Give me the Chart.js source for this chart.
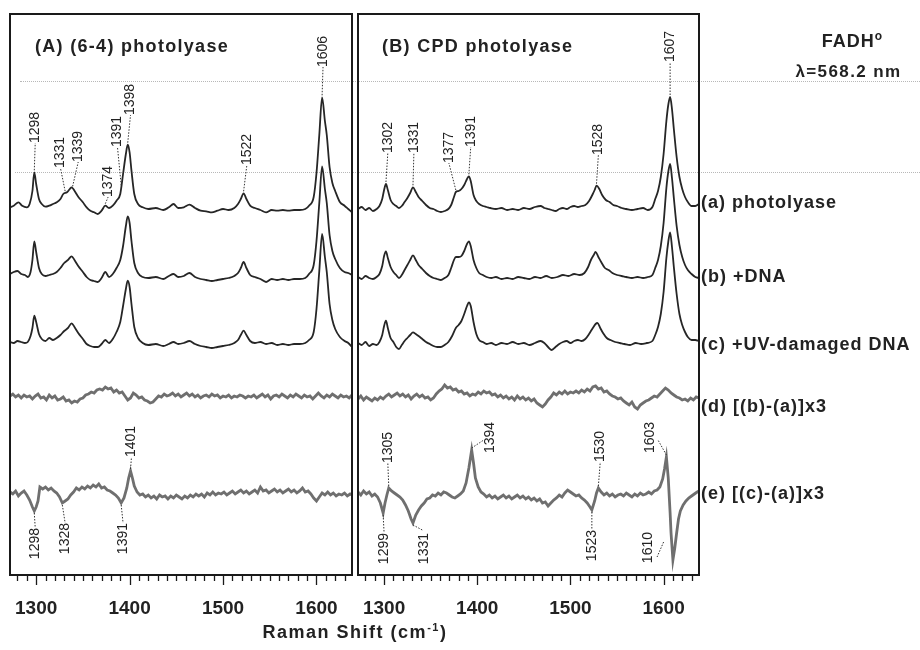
<!DOCTYPE html>
<html><head><meta charset="utf-8">
<script src="https://cdn.jsdelivr.net/npm/chart.js@4.4.1/dist/chart.umd.min.js"></script>
<style>
html,body{margin:0;padding:0;background:#fff;}
#wrap{position:relative;width:920px;height:650px;overflow:hidden;font-family:"Liberation Sans",Arial,sans-serif;color:#222;}
.dot{position:absolute;height:0;border-top:1px dotted #b8b8b8;}
.txt{position:absolute;font-weight:bold;white-space:nowrap;}
canvas{position:absolute;top:0;}
</style></head><body>
<div id="wrap">
  <div class="dot" style="left:20px;top:81px;width:900px"></div>
  <div class="dot" style="left:15px;top:172px;width:905px"></div>
  <canvas id="cA" width="360" height="650" style="left:0px"></canvas>
  <canvas id="cB" width="565" height="650" style="left:355px"></canvas>
  <div class="txt" style="left:35px;top:36px;font-size:18px;letter-spacing:1.3px">(A) (6-4) photolyase</div>
  <div class="txt" style="left:382px;top:36px;font-size:18px;letter-spacing:1.3px">(B) CPD photolyase</div>
  <div class="txt" style="left:790px;top:29px;width:125px;text-align:center;font-size:18px;letter-spacing:1px">FADH<sup style="font-size:12px">o</sup></div>
  <div class="txt" style="left:786px;top:62px;width:125px;text-align:center;font-size:17px;letter-spacing:1.4px">&lambda;=568.2 nm</div>
  <div class="txt" style="left:205px;top:621px;width:300px;text-align:center;font-size:18px;letter-spacing:1.5px">Raman Shift (cm<sup style="font-size:11px">-1</sup>)</div>
</div>
<script>
// ---- axis values ----
const wnMin = 1272, wnMax = 1638;
const xTickLabels = [1300, 1400, 1500, 1600];
const xMinorTicks = [1280,1290,1300,1310,1320,1330,1340,1350,1360,1370,1380,1390,1400,1410,1420,1430,1440,1450,1460,1470,1480,1490,1500,1510,1520,1530,1540,1550,1560,1570,1580,1590,1600,1610,1620,1630];
// vertical offsets of the stacked spectra (a)..(e)
const offsets = [366, 297, 231, 178, 82];
const traceNames = ['(a) photolyase', '(b) +DNA', '(c) +UV-damaged DNA', '(d) [(b)-(a)]x3', '(e) [(c)-(a)]x3'];

// ---- (A) (6-4) photolyase: [wavenumber, intensity] ----
const A_a = [[1272,1.7],[1276,3.3],[1281,6.7],[1285,3.3],[1290,1.7],[1293,5],[1296,18],[1298,36.7],[1300,25],[1303,10],[1306,5],[1310,2.3],[1314,3.3],[1318,5],[1322,6.7],[1326,10],[1329,15],[1333,16.7],[1336,20],[1338,21.7],[1341,18.3],[1345,12.3],[1350,6.7],[1354,1.7],[1358,-1.7],[1362,-3.3],[1366,-5],[1370,-1.7],[1374,3.3],[1378,1],[1382,3.3],[1386,8.3],[1390,15],[1393,35],[1396,55],[1398,64.3],[1400,56.7],[1402,38.3],[1405,15],[1409,5],[1414,1.7],[1420,0],[1428,1],[1436,-1],[1442,1.7],[1447,5],[1452,1],[1458,1.7],[1464,4.3],[1470,1],[1476,-1.7],[1482,-2.3],[1488,-3.3],[1494,-1.7],[1500,0],[1506,-1],[1512,1],[1516,5],[1519,10],[1522,15.7],[1525,10],[1529,3.3],[1534,1],[1540,-1],[1546,-3.3],[1552,-1],[1558,-1.7],[1564,-1],[1570,-1.7],[1576,-1],[1582,-1],[1588,0],[1592,3.3],[1597,12],[1600,36],[1603,74],[1606,111.7],[1609,88],[1611,74],[1614,42],[1617,26],[1620,18],[1625,7],[1630,3.3],[1634,0],[1638,-3.3]];
const A_b = [[1272,4],[1276,6],[1280,7],[1284,4],[1288,3],[1291,1],[1294,6],[1296,18],[1298,36.7],[1300,26],[1303,10],[1306,4],[1310,2],[1314,3],[1318,4],[1322,6],[1326,10],[1330,15],[1334,18],[1338,21.7],[1341,18],[1345,12],[1350,6],[1354,1],[1358,-2],[1362,-3],[1366,-4],[1370,0],[1374,6],[1378,1],[1382,4],[1386,10],[1390,18],[1393,32],[1396,52],[1398,61.7],[1400,55],[1402,37],[1405,15],[1409,5],[1414,1],[1420,0],[1428,1],[1436,-1],[1442,2],[1447,4],[1452,1],[1458,2],[1464,5],[1470,1],[1476,-1],[1482,-2],[1488,-3],[1494,-2],[1500,-1],[1506,0],[1512,2],[1516,5],[1519,10],[1522,16],[1525,10],[1529,3],[1534,1],[1540,-1],[1546,-4],[1552,-1],[1558,-2],[1564,-1],[1570,-2],[1576,-1],[1582,-1],[1588,0],[1592,4],[1597,13],[1600,37],[1603,75],[1606,111.7],[1609,89],[1611,75],[1614,43],[1617,27],[1620,19],[1625,10],[1630,6],[1634,5],[1638,3]];
const A_c = [[1272,2],[1276,1],[1280,3],[1284,2],[1288,1],[1291,2],[1294,8],[1296,16],[1298,28.3],[1300,22],[1303,10],[1306,5],[1310,3],[1314,6],[1318,4],[1322,6],[1326,9],[1330,13],[1334,16],[1338,20.7],[1341,17],[1345,11],[1350,5],[1354,0],[1358,-2],[1362,-3],[1366,-3],[1370,0],[1374,4],[1378,1],[1382,5],[1386,12],[1390,22],[1393,38],[1396,55],[1398,63.3],[1400,57],[1402,40],[1405,17],[1409,6],[1414,1],[1420,-1],[1428,0],[1436,-2],[1442,0],[1447,2],[1452,0],[1458,1],[1464,3],[1470,0],[1476,-2],[1482,-3],[1488,-4],[1494,-3],[1500,-2],[1506,-1],[1512,1],[1516,4],[1519,9],[1522,13.3],[1525,9],[1529,3],[1534,1],[1540,2],[1546,0],[1552,1],[1558,-1],[1564,0],[1570,-1],[1576,0],[1582,0],[1588,1],[1592,4],[1597,12],[1600,35],[1603,73],[1606,110],[1609,87],[1611,72],[1614,40],[1617,24],[1620,15],[1625,7],[1630,3],[1634,1],[1638,-3]];
const A_d = [[1272,1],[1275,3],[1278,0],[1281,2],[1284,-1],[1287,2],[1290,0],[1293,1],[1296,-2],[1299,1],[1302,3],[1305,-1],[1308,0],[1311,-3],[1314,2],[1317,-1],[1320,1],[1323,-3],[1326,-2],[1329,0],[1332,-4],[1335,-3],[1338,-6],[1341,-4],[1344,-5],[1347,-2],[1350,-1],[1353,2],[1356,3],[1359,5],[1362,4],[1365,7],[1368,8],[1371,7],[1374,10],[1377,8],[1380,9],[1383,5],[1386,7],[1389,4],[1392,5],[1395,1],[1398,-3],[1401,-1],[1404,4],[1407,2],[1410,-1],[1413,0],[1416,-3],[1419,-4],[1422,-6],[1425,-5],[1428,-2],[1431,1],[1434,0],[1437,3],[1440,1],[1443,2],[1446,4],[1449,1],[1452,3],[1455,0],[1458,2],[1461,4],[1464,1],[1467,3],[1470,0],[1473,2],[1476,-1],[1479,1],[1482,2],[1485,0],[1488,3],[1491,1],[1494,2],[1497,-1],[1500,1],[1503,0],[1506,2],[1509,-1],[1512,1],[1515,0],[1518,2],[1521,1],[1524,-1],[1527,1],[1530,0],[1533,2],[1536,-1],[1539,1],[1542,3],[1545,0],[1548,2],[1551,-2],[1554,1],[1557,2],[1560,0],[1563,3],[1566,1],[1569,-1],[1572,2],[1575,0],[1578,3],[1581,1],[1584,-1],[1587,2],[1590,0],[1593,1],[1596,-2],[1599,1],[1602,4],[1605,1],[1608,-1],[1611,2],[1614,0],[1617,3],[1620,1],[1623,-1],[1626,2],[1629,0],[1632,1],[1635,-1],[1638,2]];
const A_e = [[1272,1],[1275,-1],[1278,2],[1281,-3],[1284,0],[1287,2],[1290,-2],[1293,-7],[1296,-14],[1298,-18],[1300,-14],[1302,-8],[1304,6],[1307,4],[1310,6],[1313,3],[1316,5],[1319,2],[1322,0],[1325,-4],[1328,-10],[1331,-8],[1334,-6],[1337,-2],[1340,1],[1343,5],[1346,3],[1349,6],[1352,4],[1355,7],[1358,5],[1361,8],[1364,6],[1367,9],[1370,5],[1373,6],[1376,3],[1379,2],[1382,0],[1385,-2],[1388,-5],[1391,-10],[1394,-5],[1397,5],[1399,15],[1401,22],[1403,15],[1405,7],[1408,1],[1411,-2],[1414,-1],[1417,-4],[1420,-2],[1423,-5],[1426,-3],[1429,-6],[1432,-2],[1435,-4],[1438,-3],[1441,-6],[1444,-3],[1447,-5],[1450,-2],[1453,-4],[1456,-6],[1459,-3],[1462,-5],[1465,-2],[1468,-4],[1471,-1],[1474,-3],[1477,-1],[1480,-4],[1483,0],[1486,-2],[1489,1],[1492,-2],[1495,0],[1498,-1],[1501,1],[1504,-2],[1507,0],[1510,2],[1513,-1],[1516,1],[1519,3],[1522,0],[1525,2],[1528,-1],[1531,1],[1534,3],[1537,0],[1540,6],[1543,2],[1546,3],[1549,0],[1552,2],[1555,4],[1558,1],[1561,3],[1564,0],[1567,2],[1570,4],[1573,1],[1576,3],[1579,0],[1582,2],[1585,5],[1588,1],[1591,2],[1594,-1],[1597,-5],[1600,-8],[1603,-4],[1606,0],[1609,-2],[1612,1],[1615,-2],[1618,0],[1621,-3],[1624,-1],[1627,-2],[1630,0],[1633,-3],[1636,-1],[1638,-2]];

// ---- (B) CPD photolyase ----
const B_a = [[1272,0],[1276,2],[1280,-1],[1284,1],[1288,-2],[1292,0],[1295,3],[1298,10],[1300,19],[1302,25],[1304,19],[1307,9],[1310,5],[1313,3],[1316,1],[1319,3],[1322,7],[1325,11],[1328,16],[1331,21.7],[1334,17],[1337,12],[1341,8],[1345,4],[1349,1],[1353,0],[1357,-2],[1361,-3],[1365,-2],[1369,0],[1372,4],[1375,12],[1377,17],[1380,18],[1383,20],[1386,24],[1389,30],[1391,32.7],[1393,28],[1396,14],[1399,8],[1402,5],[1406,3],[1410,2],[1414,1],[1420,0],[1426,1],[1432,-1],[1438,0],[1444,-1],[1450,1],[1456,0],[1462,2],[1468,3],[1472,1],[1476,0],[1480,-1],[1484,-2],[1488,0],[1492,1],[1496,0],[1500,2],[1504,3],[1508,2],[1512,3],[1516,4],[1520,8],[1524,15],[1526,19],[1528,23.3],[1531,20],[1534,14],[1538,9],[1542,7],[1546,4],[1550,3],[1555,1],[1560,0],[1566,-1],[1572,0],[1578,1],[1583,-1],[1588,2],[1591,10],[1594,18],[1597,32],[1600,55],[1603,88],[1605,104],[1607,112],[1609,100],[1611,80],[1614,52],[1617,32],[1620,20],[1623,12],[1626,7],[1630,3],[1634,3],[1638,5]];
const B_b = [[1272,1],[1276,-1],[1280,2],[1284,0],[1288,-1],[1292,1],[1295,4],[1298,12],[1300,22],[1302,26.7],[1304,20],[1307,11],[1310,6],[1313,3],[1316,0],[1319,3],[1322,8],[1325,13],[1328,18],[1331,22.7],[1334,18],[1337,13],[1341,9],[1345,5],[1349,2],[1353,0],[1357,-1],[1361,-2],[1365,0],[1369,3],[1372,10],[1375,18],[1377,21],[1380,21],[1383,22],[1386,27],[1389,34],[1391,36.7],[1393,32],[1396,18],[1399,10],[1402,5],[1406,3],[1410,1],[1415,0],[1420,1],[1426,-1],[1432,0],[1438,-1],[1444,1],[1450,0],[1456,-1],[1462,1],[1468,0],[1474,2],[1480,0],[1486,1],[1492,3],[1498,2],[1504,4],[1510,3],[1515,5],[1519,11],[1522,18],[1525,23],[1527,26],[1530,21],[1533,16],[1537,10],[1541,8],[1545,5],[1550,3],[1555,2],[1560,1],[1566,0],[1572,1],[1578,0],[1583,1],[1588,3],[1591,10],[1594,18],[1597,32],[1600,55],[1603,90],[1605,106],[1607,114],[1609,100],[1611,80],[1614,52],[1617,33],[1620,21],[1623,13],[1626,8],[1630,4],[1634,1],[1638,0]];
const B_c = [[1272,1],[1276,-1],[1280,2],[1284,-2],[1288,0],[1292,-1],[1295,2],[1298,9],[1300,18],[1302,23.3],[1304,16],[1307,6],[1310,2],[1313,-3],[1316,-5],[1319,-1],[1322,3],[1325,6],[1328,9],[1331,11.7],[1334,10],[1337,8],[1341,5],[1345,2],[1349,0],[1353,-2],[1357,-3],[1361,-3],[1365,-1],[1369,2],[1373,8],[1377,16],[1380,19],[1383,23],[1386,30],[1389,38],[1391,41.7],[1393,38],[1396,22],[1399,10],[1402,4],[1406,2],[1410,0],[1415,1],[1420,-1],[1426,1],[1432,0],[1438,2],[1444,0],[1450,1],[1456,-1],[1462,1],[1468,3],[1472,1],[1476,-3],[1480,-6],[1484,-3],[1488,0],[1492,2],[1496,3],[1500,1],[1504,3],[1508,4],[1512,3],[1516,5],[1520,10],[1524,16],[1527,20],[1529,21],[1532,16],[1535,11],[1539,6],[1543,4],[1548,2],[1553,1],[1558,0],[1564,-1],[1570,1],[1576,0],[1582,1],[1588,3],[1591,9],[1594,17],[1597,30],[1600,52],[1603,86],[1605,102],[1607,111.7],[1609,97],[1611,77],[1614,50],[1617,30],[1620,19],[1623,12],[1626,7],[1630,4],[1634,4],[1638,3]];
const B_d = [[1272,-2],[1275,1],[1278,-3],[1281,0],[1284,-2],[1287,-4],[1290,-1],[1293,-3],[1296,0],[1299,-2],[1302,1],[1305,3],[1308,0],[1311,2],[1314,4],[1317,1],[1320,3],[1323,0],[1326,2],[1329,-2],[1332,1],[1335,3],[1338,0],[1341,2],[1344,-1],[1347,0],[1350,-3],[1353,-1],[1356,3],[1359,6],[1362,8],[1365,12],[1368,9],[1371,10],[1374,7],[1377,8],[1380,5],[1383,6],[1386,3],[1389,4],[1392,1],[1395,3],[1398,2],[1401,5],[1404,3],[1407,6],[1410,4],[1413,5],[1416,2],[1419,3],[1422,0],[1425,2],[1428,-1],[1431,1],[1434,-2],[1437,0],[1440,-3],[1443,1],[1446,-2],[1449,0],[1452,-3],[1455,-1],[1458,-4],[1461,-2],[1464,-6],[1467,-8],[1470,-10],[1473,-7],[1476,-3],[1479,0],[1482,4],[1485,2],[1488,5],[1491,3],[1494,6],[1497,3],[1500,5],[1503,4],[1506,6],[1509,4],[1512,7],[1515,5],[1518,8],[1521,6],[1524,10],[1527,11],[1530,8],[1533,9],[1536,5],[1539,6],[1542,3],[1545,1],[1548,0],[1551,-2],[1554,-1],[1557,-4],[1560,-6],[1563,-8],[1566,-5],[1569,-10],[1572,-12],[1575,-8],[1578,-6],[1581,-4],[1584,-3],[1587,-1],[1590,1],[1593,0],[1596,3],[1599,6],[1602,9],[1605,7],[1608,4],[1611,2],[1614,0],[1617,-1],[1620,-3],[1623,-2],[1626,-4],[1629,-1],[1632,-3],[1635,0],[1638,-1]];
const B_e = [[1272,1],[1275,-2],[1278,2],[1281,-1],[1284,1],[1287,-3],[1290,-1],[1293,-4],[1296,-10],[1299,-20],[1301,-10],[1303,-2],[1305,5],[1308,2],[1311,0],[1314,-2],[1317,-4],[1320,-7],[1323,-12],[1326,-18],[1329,-26],[1331,-30],[1334,-22],[1337,-17],[1340,-13],[1343,-10],[1346,-6],[1349,-5],[1352,-2],[1355,-3],[1358,0],[1361,-2],[1364,1],[1367,0],[1370,-2],[1373,-4],[1376,-5],[1379,-3],[1382,-1],[1385,2],[1388,10],[1391,25],[1394,43],[1396,30],[1398,15],[1401,6],[1404,1],[1407,-1],[1410,-4],[1413,-2],[1416,-5],[1419,-3],[1422,-6],[1425,-4],[1428,-2],[1431,-5],[1434,-3],[1437,-6],[1440,-4],[1443,-2],[1446,-5],[1449,-3],[1452,-6],[1455,-4],[1458,-7],[1461,-5],[1464,-8],[1467,-6],[1470,-10],[1473,-9],[1476,-13],[1479,-10],[1482,-7],[1485,-5],[1488,-2],[1491,-4],[1494,0],[1497,3],[1500,1],[1503,-1],[1506,-3],[1509,-2],[1512,-5],[1515,-7],[1518,-10],[1521,-14],[1523,-17],[1526,-8],[1528,0],[1530,5],[1533,1],[1536,-2],[1539,0],[1542,-3],[1545,-1],[1548,-4],[1551,-2],[1554,-1],[1557,-3],[1560,0],[1563,-2],[1566,-4],[1569,-1],[1572,-3],[1575,0],[1578,-2],[1581,-1],[1584,1],[1587,-1],[1590,2],[1593,3],[1596,6],[1599,14],[1601,24],[1603,36],[1605,15],[1607,-20],[1608,-40],[1610,-67],[1612,-55],[1614,-40],[1616,-26],[1618,-18],[1621,-12],[1624,-8],[1627,-5],[1630,-3],[1633,-1],[1636,1],[1638,2]];

// ---- peak annotation labels (values) and where they sit ----
const peakLabelsA = [1298,1331,1339,1374,1391,1398,1522,1606,1401,1298,1328,1391];
const peakLabelsB = [1302,1331,1377,1391,1528,1607,1305,1394,1530,1603,1299,1331,1523,1610];
const annLayoutA = [
 {t:0,lx:1299,ly:432},{t:0,lx:1326,ly:407},{t:0,lx:1345,ly:413},{t:0,lx:1377,ly:378},
 {t:0,lx:1387,ly:428},{t:0,lx:1401,ly:460},{t:0,lx:1525.5,ly:410},{t:0,lx:1607,ly:508},
 {t:4,lx:1402,ly:118},{t:4,lx:1299,ly:47,below:true},{t:4,lx:1331,ly:52,below:true},{t:4,lx:1393,ly:52,below:true}
];
const annLayoutB = [
 {t:0,lx:1304,ly:422},{t:0,lx:1332,ly:422},{t:0,lx:1369.5,ly:412},{t:0,lx:1393,ly:428},
 {t:0,lx:1530,ly:420},{t:0,lx:1607,ly:513},
 {t:4,lx:1304,ly:112},{t:4,lx:1414,ly:122,ex:1407,ey:135},{t:4,lx:1532,ly:113},{t:4,lx:1586,ly:122,ex:1594,ey:135},
 {t:4,lx:1300,ly:42,below:true},{t:4,lx:1343,ly:42,below:true,ex:1341,ey:45},{t:4,lx:1523,ly:45,below:true},
 {t:4,lx:1583,ly:43,below:true,sx:1600,sy:33,ex:1593,ey:18}
];
const labelDy = [-6, -1, 1, 10, 1];

function traceAt(arr, v){
  for (let i = 0; i < arr.length - 1; i++) {
    if (arr[i][0] <= v && arr[i+1][0] >= v) {
      const f = (v - arr[i][0]) / (arr[i+1][0] - arr[i][0]);
      return arr[i][1] + f * (arr[i+1][1] - arr[i][1]);
    }
  }
  return 0;
}

function makePlugin(series, peaks, layout, showLabels){
  return {
    id: 'frame',
    afterDatasetsDraw(chart){
      const {ctx, chartArea: a, scales: {x, y}} = chart;
      ctx.save();
      ctx.strokeStyle = '#1a1a1a';
      ctx.lineWidth = 2;
      ctx.strokeRect(a.left, a.top, a.right - a.left, a.bottom - a.top);
      ctx.lineWidth = 1.3;
      for (const v of xMinorTicks) {
        const px = Math.round(x.getPixelForValue(v)) + 0.5;
        const len = xTickLabels.includes(v) ? 9 : 5;
        ctx.beginPath(); ctx.moveTo(px, a.bottom + 1); ctx.lineTo(px, a.bottom + 1 + len); ctx.stroke();
      }
      // annotations
      ctx.font = '14px "Liberation Sans", Arial, sans-serif';
      ctx.fillStyle = '#222';
      peaks.forEach((v, i) => {
        const L = layout[i];
        const below = !!L.below;
        const sxV = L.sx !== undefined ? L.sx : v;
        const syV = L.sy !== undefined ? L.sy : traceAt(series[L.t], v) + offsets[L.t] + (below ? -2 : 2);
        const exV = L.ex !== undefined ? L.ex : L.lx;
        const eyV = L.ey !== undefined ? L.ey : L.ly;
        ctx.save();
        ctx.strokeStyle = '#333'; ctx.lineWidth = 1;
        ctx.setLineDash([1.5, 1.5]);
        ctx.beginPath();
        ctx.moveTo(x.getPixelForValue(sxV), y.getPixelForValue(syV));
        ctx.lineTo(x.getPixelForValue(exV), y.getPixelForValue(eyV));
        ctx.stroke();
        ctx.restore();
        ctx.save();
        ctx.translate(x.getPixelForValue(L.lx), y.getPixelForValue(L.ly));
        ctx.rotate(-Math.PI / 2);
        ctx.textBaseline = 'middle';
        ctx.textAlign = below ? 'right' : 'left';
        ctx.fillText(String(v), 0, 0);
        ctx.restore();
      });
      if (showLabels) {
        ctx.font = 'bold 18px "Liberation Sans", Arial, sans-serif';
        ctx.letterSpacing = '1px';
        ctx.textAlign = 'left'; ctx.textBaseline = 'middle';
        traceNames.forEach((t, k) => {
          ctx.fillText(t, a.right + 2, y.getPixelForValue(offsets[k]) + labelDy[k]);
        });
      }
      ctx.restore();
    }
  };
}

function makeChart(id, series, peaks, layout, padL, padR, showLabels){
  const datasets = series.map((arr, k) => ({
    data: arr.map(p => ({x: p[0], y: p[1] + offsets[k]})),
    showLine: true,
    borderColor: k < 3 ? '#262626' : '#6f6f6f',
    borderWidth: k < 3 ? 1.8 : 2.8,
    pointRadius: 0,
    cubicInterpolationMode: k < 3 ? 'monotone' : 'default',
    tension: 0,
    fill: false
  }));
  return new Chart(document.getElementById(id), {
    type: 'scatter',
    data: {datasets},
    options: {
      responsive: false, animation: false,
      layout: {padding: {left: padL, right: padR, top: 14, bottom: 0}},
      plugins: {legend: {display: false}, tooltip: {enabled: false}},
      scales: {
        x: {
          type: 'linear', min: wnMin, max: wnMax,
          grid: {display: false, drawTicks: false},
          border: {display: false},
          afterBuildTicks: s => { s.ticks = xTickLabels.map(v => ({value: v})); },
          afterFit: s => { s.height = 75; s.paddingLeft = 0; s.paddingRight = 0; },
          ticks: {padding: 22, color: '#222', maxRotation: 0, autoSkip: false,
                  callback: v => String(v),
                  font: {family: '"Liberation Sans", Arial, sans-serif', size: 19, weight: 'bold'}}
        },
        y: {display: false, min: 0, max: 561}
      }
    },
    plugins: [makePlugin(series, peaks, layout, showLabels)]
  });
}

makeChart('cA', [A_a, A_b, A_c, A_d, A_e], peakLabelsA, annLayoutA, 10, 8, false);
makeChart('cB', [B_a, B_b, B_c, B_d, B_e], peakLabelsB, annLayoutB, 3, 221, true);
</script>
</body></html>
